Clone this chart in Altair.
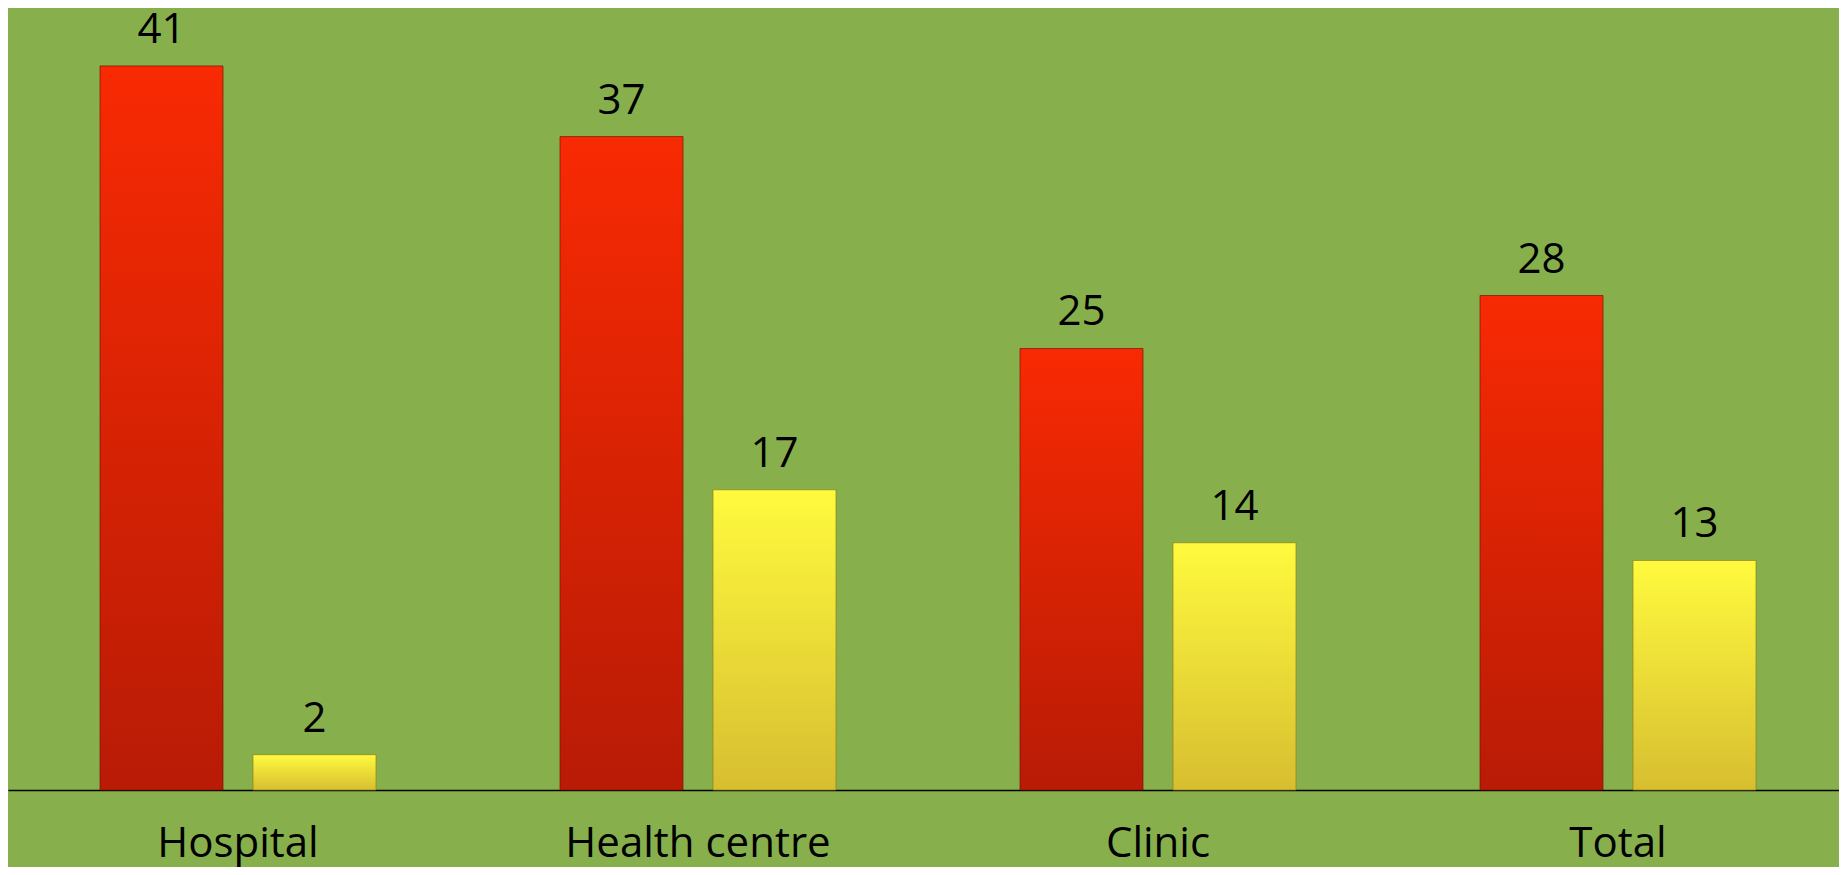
import altair as alt
import pandas as pd

categories = ["Hospital", "Health centre", "Clinic", "Total"]
series_names = ["Series 1", "Series 2"]
values_red = [41, 37, 25, 28]
values_yellow = [2, 17, 14, 13]

rows = []
for c, a, b in zip(categories, values_red, values_yellow):
    rows.append({"category": c, "series": series_names[0], "value": a})
    rows.append({"category": c, "series": series_names[1], "value": b})
df = pd.DataFrame(rows)

BG = "#87B04C"
FONT = "Open Sans"

red_grad = alt.LinearGradient(
    gradient="linear", x1=0, y1=0, x2=0, y2=1,
    stops=[alt.GradientStop(offset=0, color="#F82A03"),
           alt.GradientStop(offset=1, color="#B81B06")],
)
yellow_grad = alt.LinearGradient(
    gradient="linear", x1=0, y1=0, x2=0, y2=1,
    stops=[alt.GradientStop(offset=0, color="#FFFA3E"),
           alt.GradientStop(offset=1, color="#D7BE30")],
)

x_enc = alt.X(
    "category:N",
    sort=categories,
    title=None,
    scale=alt.Scale(paddingInner=0.4, paddingOuter=0.2, range=[0, 1840]),
    axis=alt.Axis(
        labelAngle=0,
        labelFont=FONT,
        labelFontSize=42,
        labelColor="black",
        labelBaseline="alphabetic",
        labelPadding=66,
        labelLimit=0,
        ticks=False,
        tickSize=0,
        domainColor="black",
        domainWidth=1.5,
        grid=False,
    ),
)
xo_enc = alt.XOffset(
    "series:N", sort=series_names,
    scale=alt.Scale(paddingInner=0.196, paddingOuter=0),
)
y_enc = alt.Y(
    "value:Q",
    scale=alt.Scale(domain=[0, 44.28], nice=False, zero=True),
    axis=None,
)

base = alt.Chart(df).encode(x=x_enc, xOffset=xo_enc, y=y_enc)

red = base.transform_filter(alt.datum.series == series_names[0]).mark_bar(
    color=red_grad, stroke="#7A1405", strokeWidth=1, strokeOpacity=0.7
)
yellow = base.transform_filter(alt.datum.series == series_names[1]).mark_bar(
    color=yellow_grad, stroke="#8F7E1A", strokeWidth=1, strokeOpacity=0.7
)
labels = base.mark_text(
    font=FONT, fontSize=42, color="black", baseline="alphabetic", dy=-23
).encode(text=alt.Text("value:Q"))

chart = (
    alt.layer(red, yellow, labels)
    .properties(
        width=1831,
        height=782,
        autosize=alt.AutoSizeParams(type="none"),
        padding={"left": 0, "right": 0, "top": 0, "bottom": 77},
        background=BG,
    )
    .configure_view(stroke=None)
)

chart.save("out.html", embed_options={"renderer": "svg", "actions": False})
